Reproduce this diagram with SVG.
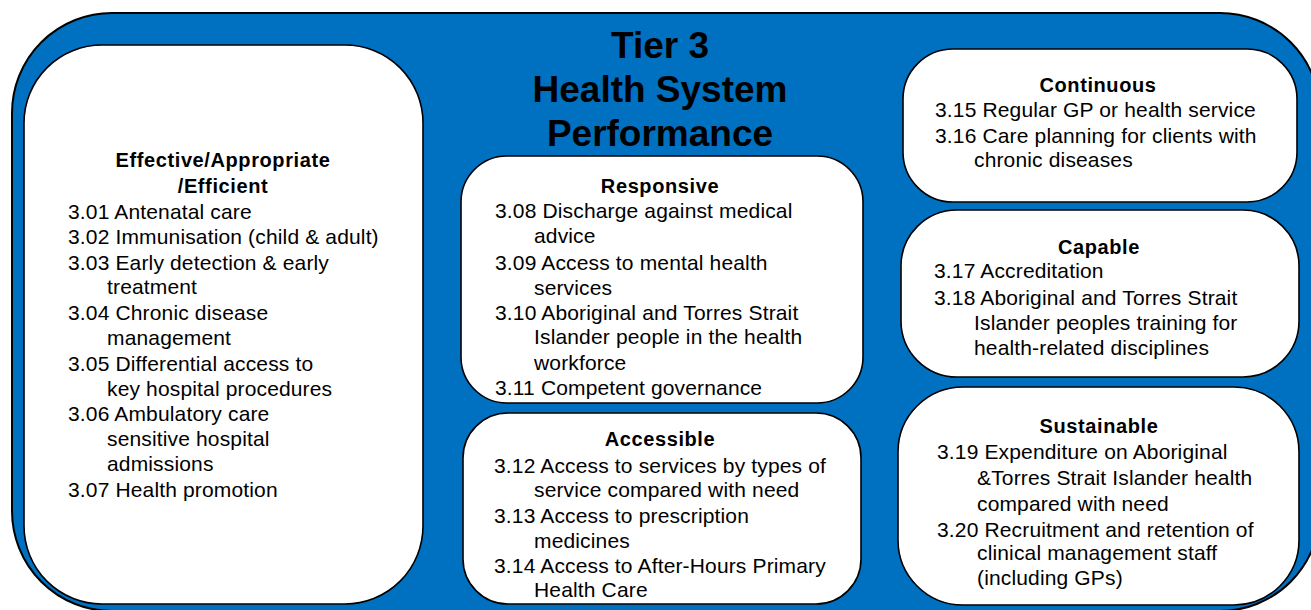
<svg xmlns="http://www.w3.org/2000/svg" width="1311" height="610" viewBox="0 0 1311 610">
<style>
.bg{fill:#0070C0;stroke:#000;stroke-width:2}
.box{fill:#fff;stroke:#000;stroke-width:1.6}
text{font-family:"Liberation Sans",Arial,sans-serif;fill:#000}
.t{font-size:37px;font-weight:bold;text-anchor:middle}
.h{font-size:20px;font-weight:bold;text-anchor:middle;letter-spacing:0.6px}
.b{font-size:21px;letter-spacing:0.15px}
</style>
<rect class="bg" x="12" y="13" width="1308" height="598" rx="100" ry="100"/>
<g id="title">
<text class="t" x="660" y="58">Tier 3</text>
<text class="t" x="660" y="102">Health System</text>
<text class="t" x="660" y="146">Performance</text>
</g>
<g id="connectors"></g>
<g id="effective">
<rect class="box" x="24" y="45" width="399" height="559" rx="78" ry="78"/>
<text class="h" x="223" y="167">Effective/Appropriate</text>
<text class="h" x="223" y="193">/Efficient</text>
<text class="b" x="68" y="219">3.01 Antenatal care</text>
<text class="b" x="68" y="244">3.02 Immunisation (child &amp; adult)</text>
<text class="b" x="68" y="270">3.03 Early detection &amp; early</text>
<text class="b" x="107" y="294">treatment</text>
<text class="b" x="68" y="320">3.04 Chronic disease</text>
<text class="b" x="107" y="345">management</text>
<text class="b" x="68" y="371">3.05 Differential access to</text>
<text class="b" x="107" y="396">key hospital procedures</text>
<text class="b" x="68" y="421">3.06 Ambulatory care</text>
<text class="b" x="107" y="446">sensitive hospital</text>
<text class="b" x="107" y="471">admissions</text>
<text class="b" x="68" y="497">3.07 Health promotion</text>
</g>
<g id="responsive">
<rect class="box" x="461" y="156" width="402" height="247" rx="46" ry="46"/>
<text class="h" x="660" y="193">Responsive</text>
<text class="b" x="495" y="218">3.08 Discharge against medical</text>
<text class="b" x="534" y="243">advice</text>
<text class="b" x="495" y="270">3.09 Access to mental health</text>
<text class="b" x="534" y="295">services</text>
<text class="b" x="495" y="320">3.10 Aboriginal and Torres Strait</text>
<text class="b" x="534" y="344">Islander people in the health</text>
<text class="b" x="534" y="370">workforce</text>
<text class="b" x="495" y="395">3.11 Competent governance</text>
</g>
<g id="accessible">
<rect class="box" x="463" y="413" width="398" height="191" rx="45" ry="45"/>
<text class="h" x="660" y="446">Accessible</text>
<text class="b" x="494" y="473">3.12 Access to services by types of</text>
<text class="b" x="534" y="497">service compared with need</text>
<text class="b" x="494" y="523">3.13 Access to prescription</text>
<text class="b" x="534" y="548">medicines</text>
<text class="b" x="494" y="573">3.14 Access to After-Hours Primary</text>
<text class="b" x="534" y="597">Health Care</text>
</g>
<g id="continuous">
<rect class="box" x="903" y="49" width="394" height="153" rx="50" ry="50"/>
<text class="h" x="1098" y="92">Continuous</text>
<text class="b" x="935" y="117">3.15 Regular GP or health service</text>
<text class="b" x="935" y="143">3.16 Care planning for clients with</text>
<text class="b" x="974" y="167">chronic diseases</text>
</g>
<g id="capable">
<rect class="box" x="901" y="210" width="398" height="167" rx="56" ry="56"/>
<text class="h" x="1099" y="254">Capable</text>
<text class="b" x="934" y="278">3.17 Accreditation</text>
<text class="b" x="934" y="305">3.18 Aboriginal and Torres Strait</text>
<text class="b" x="974" y="330">Islander peoples training for</text>
<text class="b" x="974" y="355">health-related disciplines</text>
</g>
<g id="sustainable">
<rect class="box" x="898" y="387" width="401" height="218" rx="65" ry="65"/>
<text class="h" x="1099" y="433">Sustainable</text>
<text class="b" x="937" y="459">3.19 Expenditure on Aboriginal</text>
<text class="b" x="977" y="485">&amp;Torres Strait Islander health</text>
<text class="b" x="977" y="511">compared with need</text>
<text class="b" x="937" y="537">3.20 Recruitment and retention of</text>
<text class="b" x="977" y="560">clinical management staff</text>
<text class="b" x="977" y="585">(including GPs)</text>
</g>
</svg>
